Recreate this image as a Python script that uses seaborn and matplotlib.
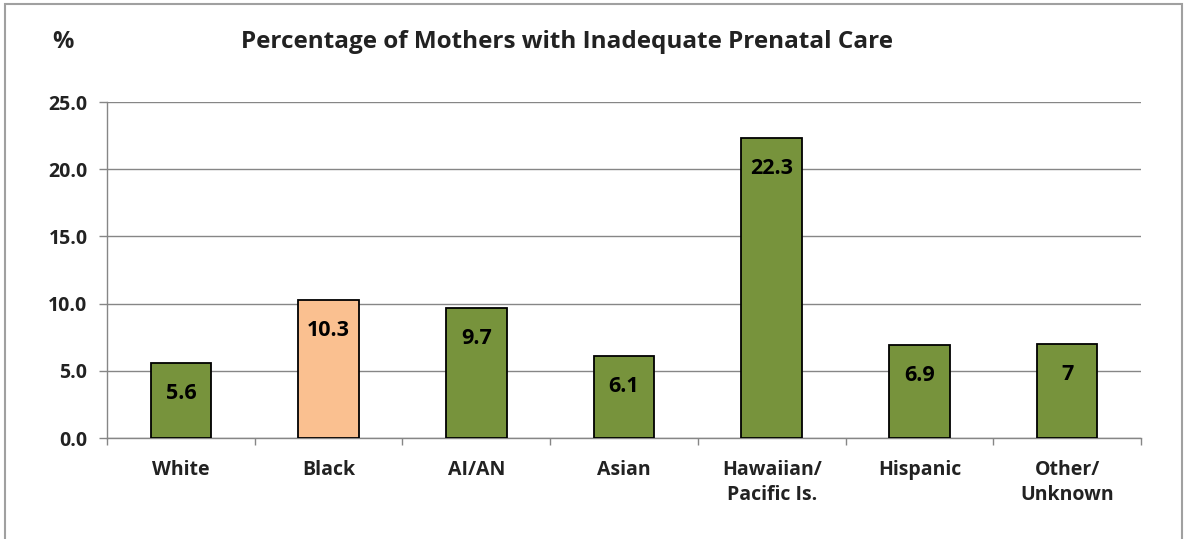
import matplotlib
matplotlib.use("Agg")
import matplotlib.pyplot as plt
import seaborn as sns
import pandas as pd
import numpy as np
from matplotlib.patches import Rectangle

categories = ["White", "Black", "AI/AN", "Asian", "Hawaiian/\nPacific Is.", "Hispanic", "Other/\nUnknown"]
values = [5.6, 10.3, 9.7, 6.1, 22.3, 6.9, 7]
labels = ["5.6", "10.3", "9.7", "6.1", "22.3", "6.9", "7"]
colors = ["#77933C", "#FAC090", "#77933C", "#77933C", "#77933C", "#77933C", "#77933C"]
yticks = [0, 5, 10, 15, 20, 25]

sns.set_theme(style="white")
plt.rcParams['font.family'] = ['Open Sans', 'DejaVu Sans']

fig = plt.figure(figsize=(11.88, 5.39), dpi=100)
ax = fig.add_axes([107/1188, 1 - 438/539, (1141-107)/1188, (438-102)/539])

df = pd.DataFrame({"cat": categories, "val": values})
sns.barplot(data=df, x="cat", y="val", hue="cat", palette=colors, legend=False, saturation=1,
            width=0.41, edgecolor="black", linewidth=1.3, ax=ax, zorder=3)

ax.set_ylim(0, 25)
ax.set_xlim(-0.5, len(categories) - 0.5)
ax.set_yticks(yticks)
ax.set_yticklabels([f"{v:.1f}" for v in yticks], fontsize=14, fontweight="bold", color="#222222")
ax.yaxis.grid(True, color="#868686", linewidth=1.0, zorder=0)
ax.set_axisbelow(True)
ax.set_xlabel("")
ax.set_ylabel("")

# x ticks at category boundaries
ax.set_xticks(np.arange(len(categories)))
ax.set_xticklabels(categories, fontsize=14, fontweight="bold", color="#222222", linespacing=1.35)
ax.tick_params(axis="x", length=0, pad=16)
ax.set_xticks(np.arange(-0.5, len(categories), 1.0), minor=True)
ax.tick_params(axis="x", which="minor", length=5, color="#868686", width=1, direction="out", bottom=True)
ax.tick_params(axis="y", length=6, color="#868686", width=1, direction="out", left=True, pad=8)

for s in ["top", "right"]:
    ax.spines[s].set_visible(False)
for s in ["left", "bottom"]:
    ax.spines[s].set_color("#868686")
    ax.spines[s].set_linewidth(1.0)

for i, (v, lab) in enumerate(zip(values, labels)):
    ax.annotate(lab, xy=(i, v), xytext=(0, -22), textcoords="offset points",
                ha="center", va="center", fontsize=15.5, fontweight="bold", color="black", zorder=5)

fig.text(567/1188, 1 - 42/539, "Percentage of Mothers with Inadequate Prenatal Care",
         ha="center", va="center", fontsize=17.5, fontweight="bold", color="#222222")
fig.text(63/1188, 1 - 42/539, "%", ha="center", va="center", fontsize=17, fontweight="bold", color="#222222")

# outer border
fig.patches.append(Rectangle((5/1188, -0.01), (1182-5)/1188, 1 - 4/539 + 0.01,
                             transform=fig.transFigure, fill=False, edgecolor="#A0A0A0", linewidth=1.5))

fig.savefig("out.png", dpi=100)
